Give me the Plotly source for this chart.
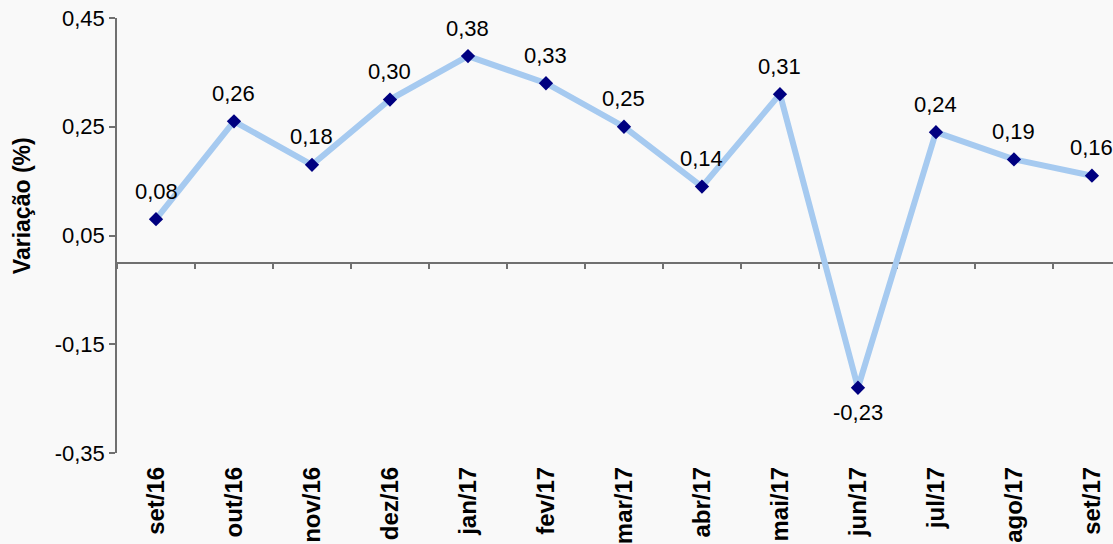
import plotly.graph_objects as go

categories = ["set/16", "out/16", "nov/16", "dez/16", "jan/17", "fev/17", "mar/17",
              "abr/17", "mai/17", "jun/17", "jul/17", "ago/17", "set/17"]
values = [0.08, 0.26, 0.18, 0.30, 0.38, 0.33, 0.25, 0.14, 0.31, -0.23, 0.24, 0.19, 0.16]
y_ticks = [0.45, 0.25, 0.05, -0.15, -0.35]
y_tick_text = ["0,45", "0,25", "0,05", "-0,15", "-0,35"]
y_title = "Variação (%)"

FONT = "Liberation Sans, Arial, sans-serif"
AXIS_COLOR = "#707070"
BG = "#f9f9f9"

x_range = [-0.5, 12.27]

fig = go.Figure()
fig.add_trace(go.Scatter(
    x=categories, y=values, mode="lines+markers",
    line=dict(color="#a6caf0", width=6),
    marker=dict(symbol="diamond", size=11, color="#000080"),
    showlegend=False, cliponaxis=False, xaxis="x", yaxis="y",
))
# invisible companion trace so the bottom label axis is rendered
fig.add_trace(go.Scatter(
    x=categories, y=values, mode="markers", marker=dict(opacity=0),
    showlegend=False, hoverinfo="skip", xaxis="x2", yaxis="y",
))

annotations = []
for c, v in zip(categories, values):
    txt = f"{v:.2f}".replace(".", ",")
    annotations.append(dict(
        x=c, y=v, xref="x", yref="y", text=txt, showarrow=False,
        font=dict(family=FONT, size=22, color="#000000"),
        yshift=28 if v >= 0 else -25,
    ))
annotations.append(dict(
    x=0, y=(455 - 207) / 437, xref="paper", yref="paper", text=f"<b>{y_title}</b>",
    textangle=-90, showarrow=False, xanchor="center", yanchor="middle", xshift=-95,
    font=dict(family=FONT, size=23, color="#000000"),
))

zero_pos = (0 - y_ticks[-1]) / (y_ticks[0] - y_ticks[-1])

fig.update_layout(
    width=1113, height=544,
    margin=dict(l=117, r=0, t=18, b=89),
    paper_bgcolor=BG, plot_bgcolor=BG,
    annotations=annotations,
    xaxis=dict(
        type="category", categoryorder="array", categoryarray=categories,
        range=x_range, anchor="free", position=zero_pos, side="bottom",
        tickson="boundaries", ticks="outside", ticklen=6, tickcolor=AXIS_COLOR, tickwidth=1.5,
        showticklabels=False, showgrid=False, zeroline=False,
        showline=True, linecolor=AXIS_COLOR, linewidth=1.5, layer="below traces",
    ),
    xaxis2=dict(
        type="category", categoryorder="array", categoryarray=categories,
        overlaying="x", anchor="y", side="bottom",
        range=x_range, showline=False, ticks="", showgrid=False, zeroline=False,
        tickangle=-90, ticklabelstandoff=8,
        tickfont=dict(family=FONT, size=24, color="#000000"),
        tickprefix="<b>", ticksuffix="</b>",
    ),
    yaxis=dict(
        range=[y_ticks[-1], y_ticks[0]], tickmode="array", tickvals=y_ticks,
        ticktext=y_tick_text, ticks="outside", ticklen=6, tickcolor=AXIS_COLOR, tickwidth=1.5,
        showline=True, linecolor=AXIS_COLOR, linewidth=1.5,
        showgrid=False, zeroline=False, ticklabeloverflow="allow",
        tickfont=dict(family=FONT, size=22, color="#000000"),
    ),
)

fig.write_html(
    "out.html",
    config={"displayModeBar": False},
    post_script="document.body.style.margin='0';document.body.style.overflow='hidden';"
                "document.body.style.background='" + BG + "';",
)
